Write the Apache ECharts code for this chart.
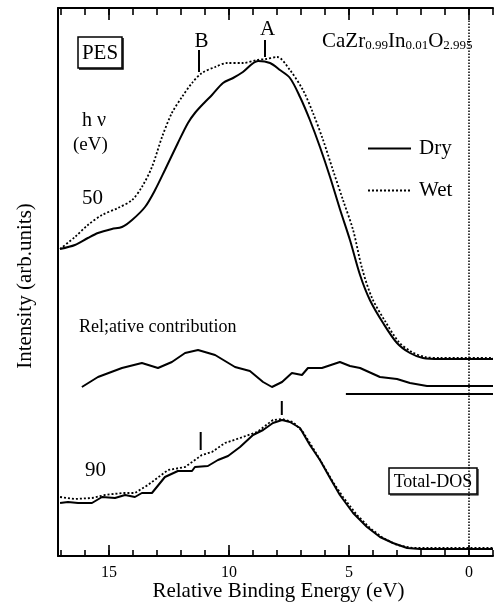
<!DOCTYPE html>
<html>
<head>
<meta charset="utf-8">
<title>PES CaZr0.99In0.01O2.995</title>
<script src="https://cdn.jsdelivr.net/npm/echarts@6/dist/echarts.min.js"></script>
<style>
  html, body { margin: 0; padding: 0; background: #fff; }
  #chart { width: 494px; height: 603px; }
</style>
</head>
<body>
<div id="chart"></div>
<script>
// [binding energy (eV), intensity (arb.units)]
var dry50 = [[17.04,307],[16.42,311],[15.88,318],[15.46,323],[14.88,327],[14.46,329],[14.04,336],[13.5,349],
  [13.08,366],[12.67,386],[12.13,413],[11.71,433],[11.42,443],[11.0,454],[10.71,461],[10.25,473],[9.83,478],
  [9.42,484],[8.79,495],[8.29,493],[7.88,486],[7.46,478],[7.04,459],[6.63,436],[6.21,409],[5.79,379],[5.38,347],
  [4.96,316],[4.54,281],[4.13,256],[3.58,233],[3.0,213],[2.46,203],[1.92,198],[1.21,197],[-1.0,197]];
var wet50 = [[17.04,307],[16.42,319],[15.88,331],[15.29,341],[14.63,348],[14.04,356],[13.63,369],[13.21,389],
  [12.79,419],[12.38,443],[11.96,459],[11.54,473],[11.13,483],[10.58,489],[10.08,493],[9.42,493],[8.83,496],
  [8.46,497],[8.0,499],[7.46,486],[6.92,466],[6.5,443],[6.08,416],[5.67,386],[5.25,356],[4.83,326],[4.46,288],
  [4.04,258],[3.5,235],[2.92,214],[2.38,204],[1.83,199],[1.21,198],[-1.0,198]];
var relative = [[16.13,169],[15.46,179],[14.46,188],[13.63,193],[12.96,188],[12.38,194],[11.83,203],[11.29,206],
  [10.58,201],[9.75,189],[9.13,185],[8.58,174],[8.21,169],[7.79,174],[7.38,183],[6.96,181],[6.71,188],[6.13,188],
  [5.38,194],[4.96,190],[4.54,188],[3.71,179],[3.0,177],[2.46,173],[1.75,170],[-1.0,170]];
var relBase = [[5.13,162],[-1.0,162]];
var dry90 = [[17.04,53],[16.71,54],[16.29,53],[15.71,53],[15.29,59],[14.75,58],[14.33,61],[13.92,59],[13.63,63],
  [13.21,63],[12.67,79],[12.13,85],[11.54,85],[11.42,89],[10.88,90],[10.46,96],[10.04,100],[9.54,109],[9.0,121],
  [8.58,126],[8.17,133],[7.79,136],[7.46,134],[7.04,128],[6.63,111],[6.21,96],[5.79,78],[5.38,61],[4.83,43],
  [4.25,29],[3.71,19],[3.17,13],[2.58,8],[2.04,7],[-1.0,7]];
var wet90 = [[17.04,59],[16.42,57],[15.71,58],[15.17,61],[14.46,63],[13.92,63],[13.38,71],[12.54,86],[11.83,89],
  [11.13,101],[10.71,104],[10.17,113],[9.54,118],[8.83,124],[8.17,136],[7.79,137],[7.33,134],[6.92,124],[6.5,108],
  [6.08,91],[5.67,74],[5.25,59],[4.67,41],[4.13,28],[3.58,18],[3.0,11],[2.33,8],[-1.0,8]];
// peak markers A, B and the two at 90 eV: [energy, low, high]
var markers = [[8.5,499,516],[11.25,484,506],[7.8,141,155],[11.18,106,124]];
var zeroLine = [[0,0],[0,536]];
var majorTicks = [0, 5, 10, 15];
var minorTicks = [-1,0,1,2,3,4,5,6,7,8,9,10,11,12,13,14,15,16,17];

var serif = 'Liberation Serif';
var chart = echarts.init(document.getElementById('chart'));

function xAxisCfg(pos, ticks, len, labels) {
    return {
        type: 'value', position: pos, min: -1, max: 17.125, inverse: true,
        axisLine: { show: labels !== null, onZero: false, lineStyle: { color: '#000', width: 2 } },
        axisTick: { show: true, inside: true, length: len, customValues: ticks, lineStyle: { color: '#000', width: 1.6 } },
        axisLabel: labels ? { show: true, customValues: labels, margin: 9, color: '#000', fontFamily: serif, fontSize: 16 } : { show: false },
        splitLine: { show: false }
    };
}

var series = [
    { name: 'Dry', data: dry50, smooth: 0.3, lineStyle: { color: '#000', width: 2 } },
    { name: 'Wet', data: wet50, smooth: 0.3, lineStyle: { color: '#000', width: 1.8, type: [2, 2] } },
    { name: 'rel', data: relative, lineStyle: { color: '#000', width: 2 } },
    { name: 'relBase', data: relBase, lineStyle: { color: '#000', width: 2 } },
    { name: 'Dry', data: dry90, lineStyle: { color: '#000', width: 2 } },
    { name: 'Wet', data: wet90, lineStyle: { color: '#000', width: 1.8, type: [2, 2] } },
    { name: 'zero', data: zeroLine, lineStyle: { color: '#000', width: 1.5, type: [1.5, 1.5] } }
];
markers.forEach(function (m) {
    series.push({ name: 'mark', data: [[m[0], m[1]], [m[0], m[2]]], lineStyle: { color: '#000', width: 2 } });
});
series.forEach(function (s) {
    s.type = 'line';
    s.symbol = 'none';
    s.silent = true;
    s.color = '#000';
});

function txt(s, x, y, size, align) {
    return { type: 'text', x: x, y: y, style: { text: s, fill: '#000', font: size + 'px "' + serif + '"', align: align || 'left', verticalAlign: 'middle' } };
}

chart.setOption({
    animation: false,
    grid: { left: 58, top: 8, right: 1, bottom: 47 },
    xAxis: [
        xAxisCfg('bottom', majorTicks, 11, majorTicks),
        xAxisCfg('bottom', minorTicks, 6, null),
        xAxisCfg('top', majorTicks, 12, false),
        xAxisCfg('top', minorTicks, 7, null)
    ],
    yAxis: {
        type: 'value', min: 0, max: 548,
        axisLine: { show: true, onZero: false, lineStyle: { color: '#000', width: 2 } },
        axisTick: { show: false }, axisLabel: { show: false }, splitLine: { show: false }
    },
    legend: {
        data: ['Dry', 'Wet'], orient: 'vertical', left: 367, top: 138, padding: 0,
        itemWidth: 43, itemHeight: 14, itemGap: 21,
        itemStyle: { opacity: 0 },
        textStyle: { color: '#000', fontFamily: serif, fontSize: 21, padding: [0, 0, 0, 3] }
    },
    series: series,
    graphic: [
        { type: 'rect', shape: { x: 78, y: 37, width: 44, height: 31 }, style: { fill: '#fff', stroke: '#000', lineWidth: 1.5 } },
        { type: 'polyline', shape: { points: [[123, 38], [123, 69], [79, 69]] }, style: { fill: null, stroke: '#000', lineWidth: 1.5 } },
        txt('PES', 100, 53, 21, 'center'),
        txt('B', 201.5, 41, 21, 'center'),
        txt('A', 267.5, 29, 21, 'center'),
        {
            type: 'text', x: 322, y: 52,
            style: {
                text: '{b|CaZr}{s|0.99}{b|In}{s|0.01}{b|O}{s|2.995}', align: 'left', verticalAlign: 'bottom',
                rich: {
                    b: { fontFamily: serif, fontSize: 21, color: '#000', verticalAlign: 'bottom', lineHeight: 24 },
                    s: { fontFamily: serif, fontSize: 13, color: '#000', verticalAlign: 'bottom', lineHeight: 24 }
                }
            }
        },
        txt('h \u03bd', 82, 120.5, 20),
        txt('(eV)', 73, 145.5, 19),
        txt('50', 82, 198, 21),
        txt('Rel;ative contribution', 79, 327.5, 18),
        txt('90', 85, 470, 21),
        { type: 'rect', shape: { x: 389, y: 468, width: 88, height: 26 }, style: { fill: '#fff', stroke: '#000', lineWidth: 1.5 } },
        { type: 'polyline', shape: { points: [[478, 469], [478, 495], [390, 495]] }, style: { fill: null, stroke: '#000', lineWidth: 1.2 } },
        txt('Total-DOS', 433, 482, 18, 'center'),
        txt('Relative Binding Energy (eV)', 278.5, 591, 21, 'center'),
        { type: 'text', x: 25, y: 286, rotation: Math.PI / 2,
          style: { text: 'Intensity (arb.units)', fill: '#000', font: '21px "' + serif + '"', align: 'center', verticalAlign: 'middle' } }
    ]
});
</script>
</body>
</html>
